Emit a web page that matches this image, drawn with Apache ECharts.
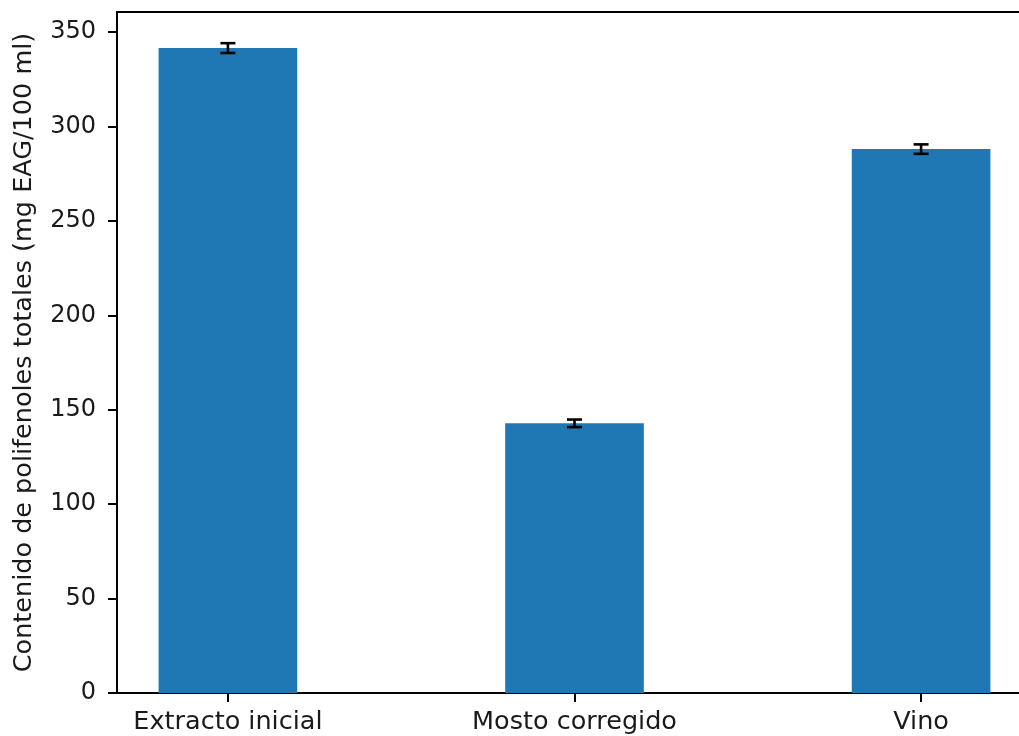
<!DOCTYPE html>
<html>
<head>
<meta charset="utf-8">
<style>
  html, body { margin: 0; padding: 0; background: #ffffff; overflow: hidden; }
  #chart { width: 1050px; height: 736px; }
</style>
<script src="https://cdn.jsdelivr.net/npm/echarts@6/dist/echarts.min.js"></script>
</head>
<body>
<div id="chart"></div>
<script>
// Total polyphenol content per sample
const categories = ['Extracto inicial', 'Mosto corregido', 'Vino'];
const means = [341.5, 142.8, 288.0];
const errors = [2.6, 2.0, 2.5];
const yTicks = [0, 50, 100, 150, 200, 250, 300, 350];
const yLabel = 'Contenido de polifenoles totales (mg EAG/100 ml)';

const FONT = 'DejaVu Sans';
const BAR_WIDTH = 0.4;      // in category units
const CAP_HALF = 7.5;       // px

const positions = categories.map((_, i) => i);
const barData = positions.map((x, i) => [x, means[i]]);
const errData = positions.map((x, i) => [x, means[i], errors[i]]);

const chart = echarts.init(document.getElementById('chart'), null, { renderer: 'canvas' });

chart.setOption({
  animation: false,
  backgroundColor: '#ffffff',
  grid: {
    left: 117, top: 12, bottom: 43, right: 18,
    show: true, borderColor: '#000', borderWidth: 2, backgroundColor: 'transparent'
  },
  xAxis: {
    type: 'value',
    min: -0.32, max: 2.32,
    splitLine: { show: false },
    axisLine: { show: true, onZero: false, lineStyle: { color: '#000', width: 2 } },
    axisTick: { show: true, length: 9, customValues: positions, lineStyle: { color: '#000', width: 2 } },
    axisLabel: {
      customValues: positions,
      formatter: v => categories[Math.round(v)] || '',
      color: '#1a1a1a', fontFamily: FONT, fontSize: 25.5, margin: 16
    }
  },
  yAxis: {
    type: 'value',
    min: 0, max: 360.6,
    splitLine: { show: false },
    axisLine: { show: true, onZero: false, lineStyle: { color: '#000', width: 2 } },
    axisTick: { show: true, length: 9, customValues: yTicks, lineStyle: { color: '#000', width: 2 } },
    axisLabel: {
      customValues: yTicks,
      color: '#1a1a1a', fontFamily: FONT, fontSize: 24, margin: 21
    },
    name: yLabel,
    nameLocation: 'middle',
    nameRotate: 90,
    nameGap: 80,
    nameTextStyle: { color: '#1a1a1a', fontFamily: FONT, fontSize: 25.5 }
  },
  series: [
    {
      type: 'custom',
      name: 'bars',
      data: barData,
      encode: { x: 0, y: 1 },
      renderItem: function (params, api) {
        const x = api.value(0), y = api.value(1);
        const p0 = api.coord([x - BAR_WIDTH / 2, 0]);
        const p1 = api.coord([x + BAR_WIDTH / 2, y]);
        return {
          type: 'rect',
          shape: { x: p0[0], y: p1[1], width: p1[0] - p0[0], height: p0[1] - p1[1] },
          style: { fill: '#1f77b4' }
        };
      },
      z: 2
    },
    {
      type: 'custom',
      name: 'errors',
      data: errData,
      encode: { x: 0, y: 1 },
      renderItem: function (params, api) {
        const x = api.value(0), m = api.value(1), e = api.value(2);
        const top = api.coord([x, m + e]);
        const bot = api.coord([x, m - e]);
        const style = { stroke: '#000', lineWidth: 2.6 };
        return {
          type: 'group',
          children: [
            { type: 'line', shape: { x1: top[0], y1: top[1], x2: bot[0], y2: bot[1] }, style: style },
            { type: 'line', shape: { x1: top[0] - CAP_HALF, y1: top[1], x2: top[0] + CAP_HALF, y2: top[1] }, style: style },
            { type: 'line', shape: { x1: bot[0] - CAP_HALF, y1: bot[1], x2: bot[0] + CAP_HALF, y2: bot[1] }, style: style }
          ]
        };
      },
      z: 3
    }
  ]
});
</script>
</body>
</html>
